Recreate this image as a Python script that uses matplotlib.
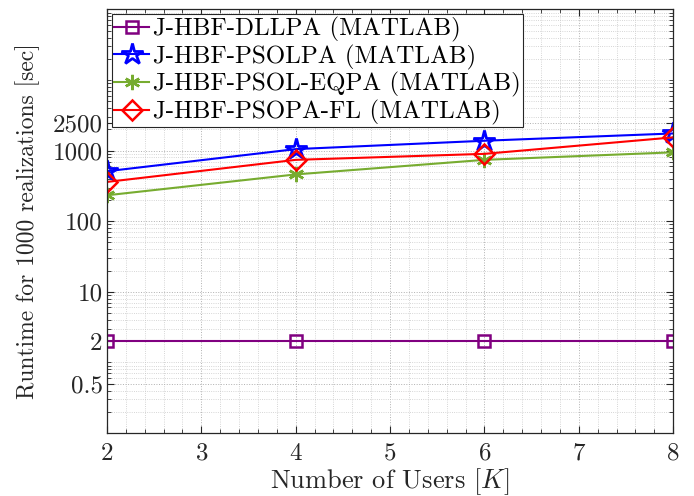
import numpy as np
import matplotlib
matplotlib.use('Agg')
import matplotlib.pyplot as plt
from matplotlib.ticker import FixedLocator, FixedFormatter, MultipleLocator, LogLocator, NullFormatter

plt.rcParams['font.family'] = 'serif'
plt.rcParams['font.serif'] = ['cmr10']
plt.rcParams['mathtext.fontset'] = 'cm'
plt.rcParams['axes.formatter.use_mathtext'] = True

# runtime in seconds for 1000 realizations
users = [2, 4, 6, 8]
rt_dllpa = [2, 2, 2, 2]
rt_psolpa = [510, 1050, 1380, 1750]
rt_eqpa = [233, 460, 740, 946]
rt_fl = [360, 740, 900, 1540]

yticks = [0.5, 2, 10, 100, 1000, 2500]
ytick_labels = ['0.5', '2', '10', '100', '1000', '2500']

fig = plt.figure(figsize=(6.94, 4.96), dpi=100)
ax = fig.add_axes([0.154, 0.127, 0.816, 0.854])

ax.semilogy(users, rt_dllpa, '-s', color='#800080', lw=1.5, ms=9, mfc='none', mew=1.8,
            label='J-HBF-DLLPA (MATLAB)')
ax.semilogy(users, rt_psolpa, '-*', color='#0000ff', lw=1.5, ms=16, mfc='none', mew=2.0,
            label='J-HBF-PSOLPA (MATLAB)')
ax.semilogy(users, rt_eqpa, '-', color='#77ac30', lw=1.5, marker=(6, 2, 0), ms=11, mew=1.8,
            label='J-HBF-PSOL-EQPA (MATLAB)')
ax.semilogy(users, rt_fl, '-D', color='#ff0000', lw=1.5, ms=10, mfc='none', mew=1.8,
            label='J-HBF-PSOPA-FL (MATLAB)')

ax.set_xlim(2, 8)
ax.set_ylim(0.1, 1e5)
ax.xaxis.set_major_locator(MultipleLocator(1))
ax.xaxis.set_minor_locator(MultipleLocator(0.2))
ax.yaxis.set_major_locator(FixedLocator(yticks))
ax.yaxis.set_major_formatter(FixedFormatter(ytick_labels))
ax.yaxis.set_minor_locator(LogLocator(base=10, subs=np.arange(1, 10)))
ax.yaxis.set_minor_formatter(NullFormatter())

ax.tick_params(which='both', direction='in', top=True, right=True, labelsize=18, colors='#262626')
ax.tick_params(which='major', length=5, width=0.8)
ax.tick_params(which='minor', length=3, width=0.6)
ax.tick_params(axis='x', pad=7)
ax.tick_params(axis='y', pad=3)

ax.grid(True, which='major', ls=':', color='#b0b0b0', lw=0.7)
ax.grid(True, which='minor', ls=':', color='#c8c8c8', lw=0.6)
for s in ax.spines.values():
    s.set_color('#262626')
    s.set_linewidth(0.9)

ax.set_xlabel(r'Number of Users $[K]$', fontsize=19, color='#262626', labelpad=1)
ax.set_ylabel('Runtime for 1000 realizations [sec]', fontsize=17, color='#262626', labelpad=9)

leg = ax.legend(loc='upper left', fontsize=18, fancybox=False, framealpha=1,
                edgecolor='#262626', borderpad=0.1, labelspacing=0.1,
                handlelength=1.4, handletextpad=0.15, borderaxespad=0.2)
leg.get_frame().set_linewidth(0.8)

fig.savefig('out.png', dpi=100)
